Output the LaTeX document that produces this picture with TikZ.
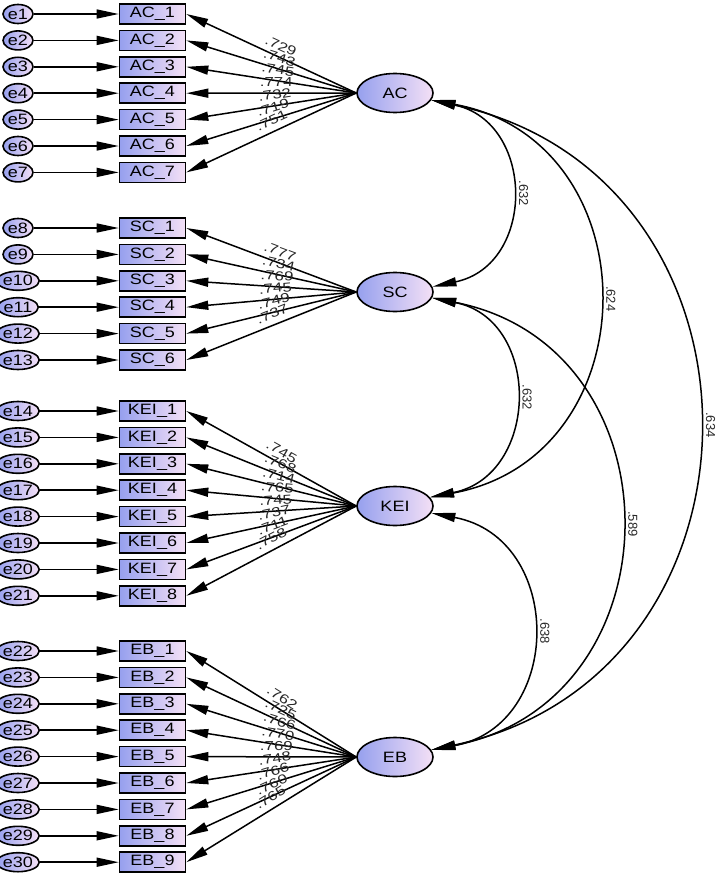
\documentclass[tikz,border=0pt]{standalone}
\usepackage{fontspec}
\setmainfont{Liberation Sans}
\newfontfamily\boxfont[FakeStretch=1.2]{Liberation Sans}
\newfontfamily\loadfont[FakeStretch=1.3]{Liberation Sans}
\usetikzlibrary{shapes.geometric,arrows.meta}
\definecolor{gleft}{RGB}{150,160,238}
\definecolor{gright}{RGB}{244,224,246}
\definecolor{labc}{RGB}{40,40,40}
\tikzset{
  obs/.style={draw, line width=0.8pt, left color=gleft, right color=gright,
    minimum width=33pt, minimum height=10pt, inner sep=0pt,
    font=\boxfont\fontsize{7.5}{8}\selectfont},
  err/.style={ellipse, draw, line width=0.8pt, left color=gleft, right color=gright,
    minimum width=15pt, minimum height=9.5pt, inner sep=0pt,
    font=\boxfont\fontsize{7.5}{8}\selectfont},
  lat/.style={ellipse, draw, line width=0.8pt, left color=gleft, right color=gright,
    minimum width=38pt, minimum height=19.5pt, inner sep=0pt,
    font=\boxfont\fontsize{7.5}{8}\selectfont},
  arr/.style={line width=0.75pt, -{Triangle[length=11pt,width=4.5pt]}},
  cov/.style={line width=0.75pt, {Triangle[length=12pt,width=4.5pt]}-{Triangle[length=12pt,width=4.5pt]}},
  ld/.style={font=\loadfont\fontsize{6.5}{7}\selectfont, text=labc, sloped, above, inner sep=2.8pt, pos=0.47},
  cl/.style={font=\fontsize{6.5}{7}\selectfont, text=labc, rotate=-90, anchor=south, inner sep=4.5pt, outer sep=0pt, pos=0.5}
}
\begin{document}
\begin{tikzpicture}[x=0.5pt,y=-0.5pt]
\useasboundingbox (0,0) rectangle (724,878);
% latent variables
\node[lat] (AC) at (395,93) {AC};
\node[lat] (SC) at (395,292) {SC};
\node[lat] (KEI) at (395,506) {KEI};
\node[lat] (EB) at (395,757) {EB};
% AC block
\foreach \ld [count=\i] in {.729,.743,.745,.774,.732,.719,.751} {
  \pgfmathsetmacro\yy{14+26.4*(\i-1)}
  \pgfmathtruncatemacro\ee{\i}
  \node[err] (e\ee) at (18,\yy) {e\ee};
  \node[obs] (AC\i) at (152.5,\yy) {AC\_\i};
  \draw[arr] (e\ee) -- (AC\i);
  \draw[arr] (AC.west) -- node[ld]{\ld} (AC\i.east);
}
% SC block
\foreach \ld [count=\i] in {.777,.734,.769,.745,.749,.737} {
  \pgfmathsetmacro\yy{228+26.4*(\i-1)}
  \pgfmathtruncatemacro\ee{\i+7}
  \node[err] (e\ee) at (18,\yy) {e\ee};
  \node[obs] (SC\i) at (152.5,\yy) {SC\_\i};
  \draw[arr] (e\ee) -- (SC\i);
  \draw[arr] (SC.west) -- node[ld]{\ld} (SC\i.east);
}
% KEI block
\foreach \ld [count=\i] in {.745,.768,.714,.765,.745,.737,.711,.758} {
  \pgfmathsetmacro\yy{411+26.4*(\i-1)}
  \pgfmathtruncatemacro\ee{\i+13}
  \node[err] (e\ee) at (18,\yy) {e\ee};
  \node[obs] (KEI\i) at (152.5,\yy) {KEI\_\i};
  \draw[arr] (e\ee) -- (KEI\i);
  \draw[arr] (KEI.west) -- node[ld]{\ld} (KEI\i.east);
}
% EB block
\foreach \ld [count=\i] in {.762,.725,.766,.770,.769,.748,.766,.760,.765} {
  \pgfmathsetmacro\yy{651+26.4*(\i-1)}
  \pgfmathtruncatemacro\ee{\i+21}
  \node[err] (e\ee) at (18,\yy) {e\ee};
  \node[obs] (EB\i) at (152.5,\yy) {EB\_\i};
  \draw[arr] (e\ee) -- (EB\i);
  \draw[arr] (EB.west) -- node[ld]{\ld} (EB\i.east);
}
% covariance end points
\coordinate (ACo) at (AC.-11);
\coordinate (SCi) at (SC.8);
\coordinate (SCo) at (SC.-9);
\coordinate (KEIi) at (KEI.14);
\coordinate (KEIo) at (KEI.-11);
\coordinate (EBi) at (EB.11);
% covariances
\draw[cov] (ACo) .. controls +(104,22) and +(104,-22) .. node[cl]{.632} (SCi);
\draw[cov] (ACo) .. controls +(222,41) and +(222,-41) .. node[cl]{.624} (KEIi);
\draw[cov] (ACo) .. controls +(354,75) and +(354,-75) .. node[cl]{.634} (EBi);
\draw[cov] (SCo) .. controls +(110,22) and +(110,-22) .. node[cl]{.632} (KEIi);
\draw[cov] (SCo) .. controls +(250,49) and +(250,-49) .. node[cl]{.589} (EBi);
\draw[cov] (KEIo) .. controls +(133,25) and +(133,-25) .. node[cl]{.638} (EBi);
\end{tikzpicture}
\end{document}
